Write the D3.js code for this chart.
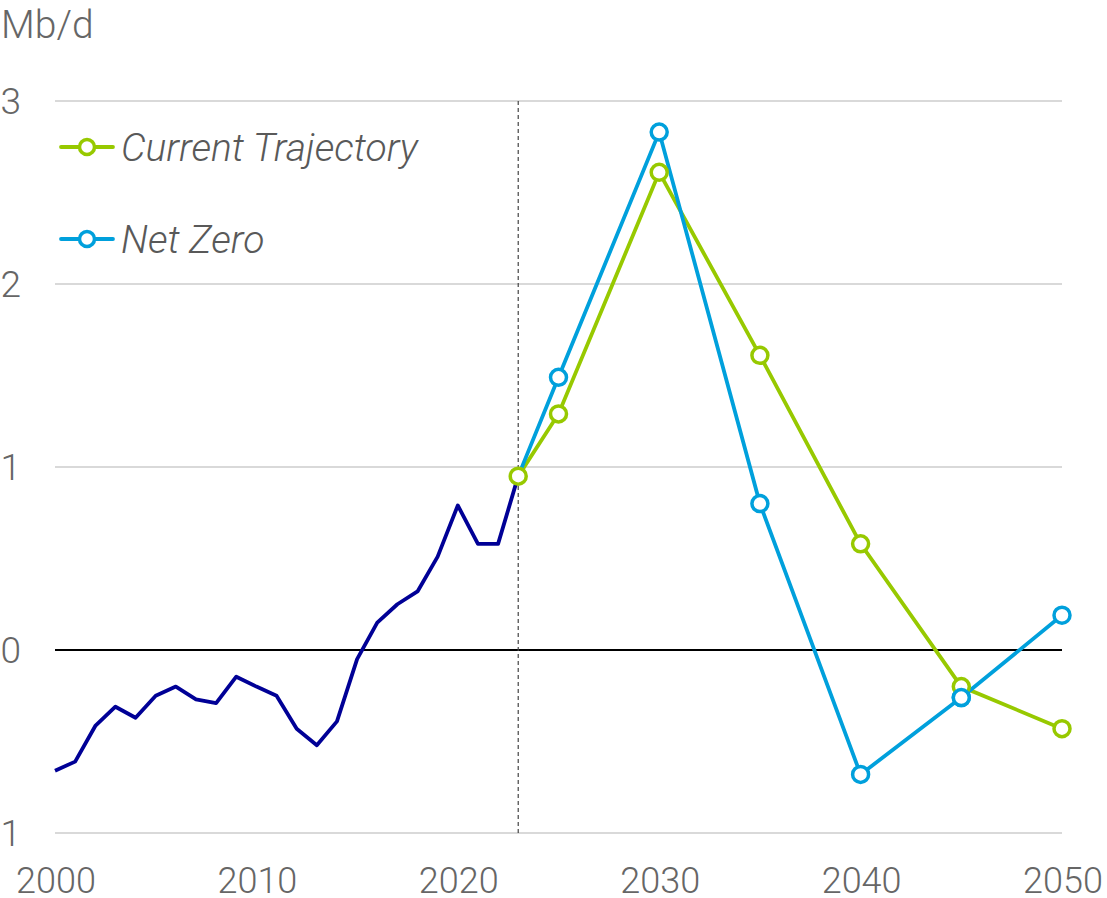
<!DOCTYPE html>
<html><head><meta charset="utf-8">
<script src="https://cdn.jsdelivr.net/npm/d3@7"></script>
<style>body{margin:0;background:#fff}svg{display:block}text{font-family:Roboto,"Liberation Sans",sans-serif;font-weight:300}</style>
</head><body><svg id="c" width="1107" height="898"></svg>
<script>
const histYears = d3.range(2000, 2024);
const histValues = [-0.66,-0.61,-0.415,-0.31,-0.37,-0.25,-0.20,-0.27,-0.29,-0.146,-0.20,-0.25,-0.43,-0.52,-0.39,-0.05,0.15,0.25,0.32,0.51,0.79,0.58,0.58,0.95];
const scenYears = [2023,2025,2030,2035,2040,2045,2050];
const currentTrajectory = [0.95,1.29,2.61,1.61,0.58,-0.20,-0.43];
const netZero = [0.95,1.49,2.83,0.80,-0.68,-0.26,0.19];
const yTicks = [-1,0,1,2,3];
const yTickLabels = ["−1","0","1","2","3"];
const xTicks = [2000,2010,2020,2030,2040,2050];
const seriesNames = ["Current Trajectory","Net Zero"];
const colors = {hist:"#000096", ct:"#97c900", nz:"#00a0dc"};

const svg = d3.select("#c");
const x = d3.scaleLinear().domain([2000,2050]).range([55,1062]);
const y = d3.scaleLinear().domain([-1,3]).range([833,101]);

svg.append("g").selectAll("line").data(yTicks.filter(d=>d!==0)).join("line")
  .attr("x1",x(2000)).attr("x2",x(2050)).attr("y1",d=>y(d)).attr("y2",d=>y(d))
  .attr("stroke","#d9d9d9").attr("stroke-width",2);
svg.append("line").attr("x1",x(2000)).attr("x2",x(2050)).attr("y1",y(0)).attr("y2",y(0))
  .attr("stroke","#000").attr("stroke-width",2);

svg.append("g").selectAll("text").data(yTicks).join("text")
  .attr("x",21).attr("y",d=>y(d)).attr("dy","0.36em").attr("text-anchor","end")
  .attr("font-size",37).attr("fill","#666").text((d,i)=>yTickLabels[i]);
svg.append("g").selectAll("text").data(xTicks).join("text")
  .attr("x",d=>x(d)+1).attr("y",893).attr("text-anchor","middle")
  .attr("font-size",36).attr("fill","#666").text(d=>d);
svg.append("text").attr("x",1).attr("y",38).attr("font-size",39).attr("fill","#666").text("Mb/d");

svg.append("line").attr("x1",x(2023)).attr("x2",x(2023)).attr("y1",y(3)).attr("y2",y(-1))
  .attr("stroke","#444").attr("stroke-width",1.2).attr("stroke-dasharray","4,3");

const line = d3.line().x(d=>x(d[0])).y(d=>y(d[1]));
svg.append("path").datum(histYears.map((yr,i)=>[yr,histValues[i]])).attr("d",line)
  .attr("fill","none").attr("stroke",colors.hist).attr("stroke-width",3.8).attr("stroke-linejoin","round");

function series(vals,col){
  const pts = scenYears.map((yr,i)=>[yr,vals[i]]);
  svg.append("path").datum(pts).attr("d",line).attr("fill","none").attr("stroke",col).attr("stroke-width",3.8);
  return pts;
}
const ctPts = series(currentTrajectory,colors.ct);
const nzPts = series(netZero,colors.nz);
function markers(pts,col){
  svg.append("g").selectAll("circle").data(pts).join("circle")
    .attr("cx",d=>x(d[0])).attr("cy",d=>y(d[1])).attr("r",8)
    .attr("fill","#fff").attr("stroke",col).attr("stroke-width",3.5);
}
markers(nzPts.slice(1),colors.nz);
markers(ctPts,colors.ct);
markers([nzPts[5]],colors.nz);

const leg = [[seriesNames[0],colors.ct,147],[seriesNames[1],colors.nz,239]];
leg.forEach(([name,col,ly])=>{
  const g = svg.append("g");
  g.append("line").attr("x1",61).attr("x2",113).attr("y1",ly).attr("y2",ly).attr("stroke",col).attr("stroke-width",3.8).attr("stroke-linecap","round");
  g.append("circle").attr("cx",87).attr("cy",ly).attr("r",7.5).attr("fill","#fff").attr("stroke",col).attr("stroke-width",3.5);
  g.append("text").attr("x",121).attr("y",ly).attr("dy","0.36em").attr("font-size",39).attr("font-style","italic").attr("fill","#595959").text(name);
});
</script></body></html>
